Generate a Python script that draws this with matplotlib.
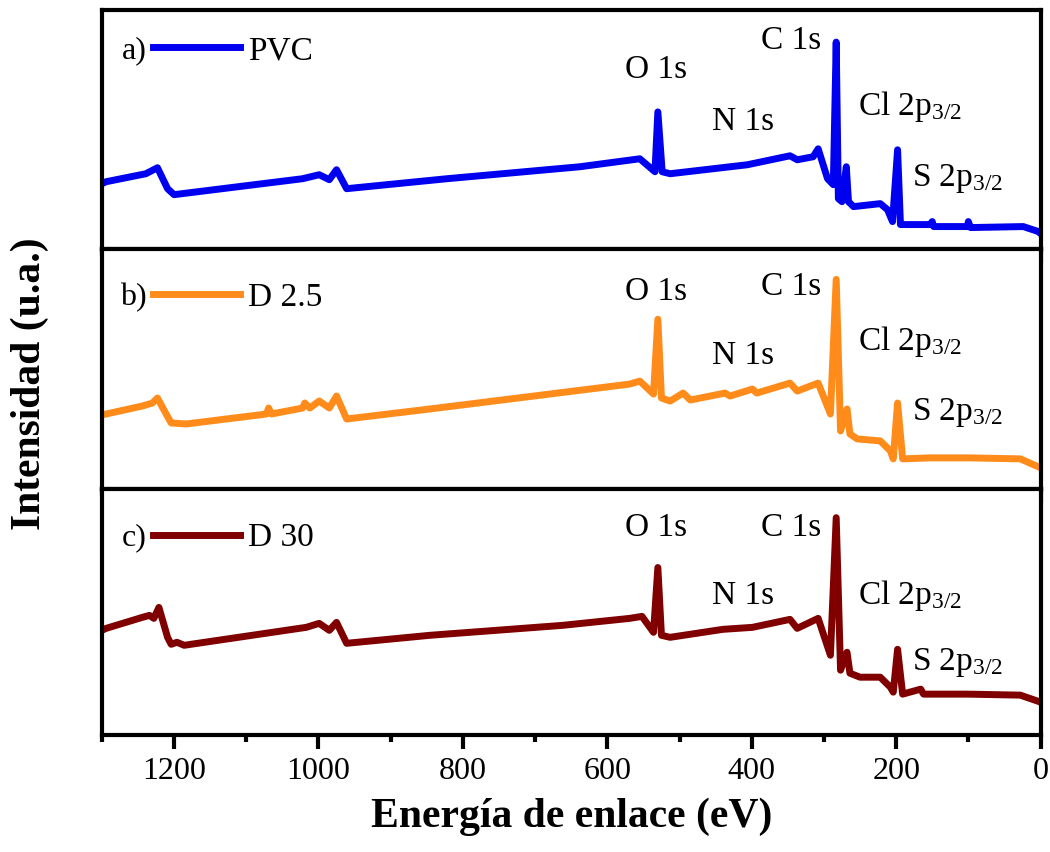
import matplotlib
matplotlib.use("Agg")
import matplotlib.pyplot as plt
from matplotlib.ticker import MultipleLocator

plt.rcParams['font.family'] = ['Liberation Serif', 'DejaVu Serif']
plt.rcParams['mathtext.fontset'] = 'custom'
plt.rcParams['mathtext.rm'] = 'Liberation Serif'
plt.rcParams['mathtext.it'] = 'Liberation Serif:italic'

# espectros XPS (energia de enlace en eV, intensidad u.a.)
energy_pvc = [1300, 1294, 1239, 1223, 1209, 1200, 1022, 999, 985, 975, 961, 822,
              638, 555, 534, 530, 524, 513, 406, 347, 337, 315, 308, 295, 287,
              283, 280, 275, 269, 266, 259, 222, 212, 205, 198, 194, 153, 150,
              148, 101, 100, 97, 24, 3, 0]
int_pvc = [66, 68, 76, 82, 61, 55, 71, 75, 70, 80, 61, 71,
           83, 91, 78, 138, 78, 76, 85, 94, 90, 93, 101, 71, 65,
           208, 51, 48, 83, 48, 43, 46, 40, 28, 100, 25, 25, 28,
           23, 23, 28, 22, 23, 18, 16]

energy_d25 = [1300, 1294, 1244, 1230, 1223, 1211, 1204, 1183, 1072, 1069, 1065,
              1022, 1019, 1012, 999, 985, 975, 961, 846, 569, 555, 536, 530, 525,
              513, 495, 485, 437, 430, 399, 393, 347, 337, 308, 291, 283, 277,
              268, 264, 254, 222, 208, 204, 198, 191, 153, 101, 28, 0]
int_d25 = [74, 75, 83, 86, 91, 75, 66, 65, 75, 81, 75,
           81, 86, 81, 88, 81, 93, 70, 80, 105, 108, 95, 170, 91,
           88, 96, 89, 96, 93, 100, 96, 106, 98, 106, 75, 210, 58,
           80, 55, 50, 48, 38, 30, 86, 30, 31, 31, 30, 21]

energy_d30 = [1300, 1294, 1244, 1234, 1228, 1221, 1209, 1204, 1196, 1186, 1017,
              999, 985, 975, 961, 846, 662, 569, 552, 536, 530, 525, 513, 440,
              399, 347, 337, 308, 291, 283, 277, 268, 264, 250, 222, 208, 204,
              198, 191, 166, 162, 101, 28, 0]
int_d30 = [105, 107, 118, 120, 117, 128, 98, 91, 93, 90, 108,
           112, 105, 113, 92, 100, 110, 117, 119, 103, 168, 100, 98, 106,
           108, 116, 107, 117, 80, 218, 65, 83, 62, 58, 58, 48, 43,
           86, 41, 46, 41, 41, 40, 33]

series = [(energy_pvc, int_pvc, 'PVC', '#0000f0', 'a)'),
          (energy_d25, int_d25, 'D 2.5', '#ff8c1a', 'b)'),
          (energy_d30, int_d30, 'D 30', '#800000', 'c)')]

peak_names = ['O 1s', 'C 1s', 'N 1s', r'Cl 2p$_{3/2}$', r'S 2p$_{3/2}$']
# posiciones de las etiquetas (eV, altura) para cada panel
label_x = [533, 345, 412, 253, 178]
label_y = [[180, 209, 128, 143, 71],
           [198, 203, 133, 148, 76],
           [208, 208, 140, 140, 73]]
label_ha = ['center', 'center', 'center', 'left', 'left']

fig = plt.figure(figsize=(10.5, 8.52), dpi=100)
gs = fig.add_gridspec(3, 1, left=0.097, right=0.991, top=0.988, bottom=0.1373,
                      hspace=0, height_ratios=[240, 240, 247])
ylims = [240, 240, 247]

axes = []
for i, (e, y, name, color, tag) in enumerate(series):
    ax = fig.add_subplot(gs[i], sharex=axes[0] if axes else None)
    axes.append(ax)
    ax.plot(e, y, color=color, lw=5, solid_joinstyle='round', label=name)
    ax.set_xlim(1300, 0)
    ax.set_ylim(0, ylims[i])
    ax.set_yticks([])
    ax.xaxis.set_major_locator(MultipleLocator(200))
    ax.xaxis.set_minor_locator(MultipleLocator(100))
    ax.tick_params(axis='x', which='major', direction='out', length=10, width=3,
                   labelsize=23, pad=6)
    ax.tick_params(axis='x', which='minor', direction='out', length=5, width=3)
    for sp in ax.spines.values():
        sp.set_linewidth(3)
    if i < 2:
        ax.tick_params(axis='x', labelbottom=False)

    for nm, lx, ly, ha in zip(peak_names, label_x, label_y[i], label_ha):
        ax.text(lx, ly, nm, fontsize=24, ha=ha, va='center')

    ly = 0.83 if i == 0 else 0.80
    ax.text(0.048, ly, tag, transform=ax.transAxes, fontsize=23, ha='right', va='center')
    ax.legend(loc='center left', bbox_to_anchor=(0.055, ly), frameon=False,
              fontsize=24, handlelength=2.6, handletextpad=0.25,
              borderpad=0, borderaxespad=0)

axes[-1].set_xlabel('Energía de enlace (eV)', fontsize=30, fontweight='bold', labelpad=8)
fig.text(0.028, 0.55, 'Intensidad (u.a.)', fontsize=30, fontweight='bold',
         rotation=90, ha='center', va='center')

fig.savefig('out.png', dpi=100)
